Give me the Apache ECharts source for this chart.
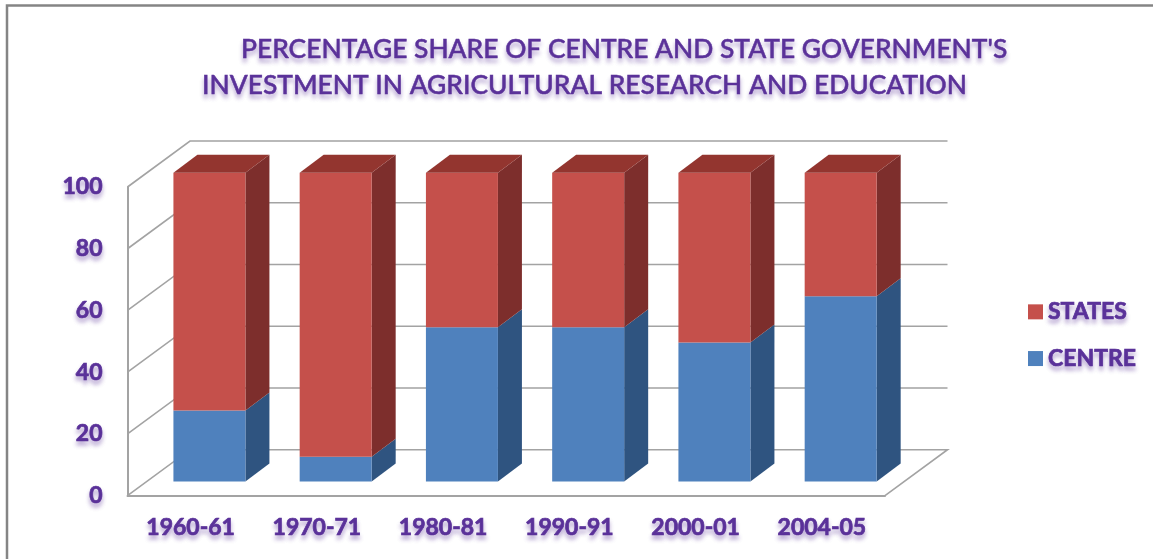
<!DOCTYPE html>
<html>
<head>
<meta charset="utf-8">
<style>html,body{margin:0;padding:0;background:#fff}#c{width:1153px;height:559px}</style>
<script src="https://cdn.jsdelivr.net/npm/echarts@6/dist/echarts.min.js"></script>
</head>
<body>
<div id="c"></div>
<script>
const categories = ['1960-61','1970-71','1980-81','1990-91','2000-01','2004-05'];
const centre = [23, 8, 50, 50, 45, 60];
const states = [77, 92, 50, 50, 55, 40];
const ticks = [0, 20, 40, 60, 80, 100];
const titleLines = ["PERCENTAGE SHARE OF CENTRE AND STATE GOVERNMENT'S", "INVESTMENT IN AGRICULTURAL RESEARCH AND EDUCATION"];

const PURPLE = '#5a3199';
const SHADOW = {textShadowColor:'rgba(90,49,153,0.4)', textShadowBlur:4, textShadowOffsetX:0, textShadowOffsetY:4};
const HEAVY = {textBorderColor:PURPLE, textBorderWidth:0.7};
const MEDIUM = {textBorderColor:PURPLE, textBorderWidth:0.5};
const WALL = {dx:62.5, dy:-46};
const FRONT = {dx:18.8, dy:-14.2};
const DEPTH = {dx:24, dy:-18};
const BAR_W = 72;
const GRID_C = '#a3a3a3';

function wallItem(params, api) {
  const cs = params.coordSys;
  const v = api.value(0);
  const p = api.coord([0, v]);
  const y = p[1], x0 = cs.x, x1 = cs.x + cs.width;
  const style = {stroke:GRID_C, lineWidth:1.6, fill:null};
  const pts = [[x0, y], [x0 + WALL.dx, y + WALL.dy], [x1 + WALL.dx, y + WALL.dy]];
  if (v === 0) pts.push([x1, y]);
  return {type:'polyline', shape:{points:pts}, style};
}
function barRender(front, side, top, withTop) {
  return function (params, api) {
    const c0 = api.coord([api.value(0), api.value(1)]);
    const c1 = api.coord([api.value(0), api.value(2)]);
    const l = c0[0] - BAR_W / 2 + FRONT.dx, r = l + BAR_W;
    const yb = c0[1] + FRONT.dy, yt = c1[1] + FRONT.dy;
    const d = DEPTH;
    const kids = [
      {type:'polygon', shape:{points:[[r,yb],[r+d.dx,yb+d.dy],[r+d.dx,yt+d.dy],[r,yt]]}, style:{fill:side}},
      {type:'rect', shape:{x:l,y:yt,width:BAR_W,height:yb-yt}, style:{fill:front}}
    ];
    if (withTop) kids.push({type:'polygon', shape:{points:[[l,yt],[l+d.dx,yt+d.dy],[r+d.dx,yt+d.dy],[r,yt]]}, style:{fill:top}});
    return {type:'group', children:kids};
  };
}
const chart = echarts.init(document.getElementById('c'), null, {renderer:'canvas'});
chart.setOption({
  animation:false,
  backgroundColor:'#ffffff',
  textStyle:{fontFamily:'Lato'},
  title:[
    {text:titleLines[0], left:236, top:31, textStyle:{color:PURPLE, fontFamily:'Lato', fontWeight:500, fontSize:26.4, ...MEDIUM, ...SHADOW}},
    {text:titleLines[1], left:197, top:67, textStyle:{color:PURPLE, fontFamily:'Lato', fontWeight:500, fontSize:26.4, ...MEDIUM, ...SHADOW}}
  ],
  legend:{
    orient:'vertical', left:1023, top:295, itemWidth:15, itemHeight:15, itemGap:23, icon:'rect',
    data:['STATES','CENTRE'], selectedMode:false,
    textStyle:{color:PURPLE, fontFamily:'Lato', fontWeight:'bold', fontSize:23, padding:[0,0,0,0], ...HEAVY, ...SHADOW}
  },
  grid:{left:127.5, right:268, top:187, bottom:63.3},
  xAxis:{
    type:'category', data:categories,
    axisLine:{show:true, lineStyle:{color:GRID_C, width:2}}, axisTick:{show:false},
    axisLabel:{color:PURPLE, fontFamily:'Lato', fontWeight:'bold', fontSize:23, margin:20, ...HEAVY, ...SHADOW}
  },
  yAxis:{
    type:'value', min:0, max:100, interval:20,
    splitLine:{show:false},
    axisLine:{show:true, lineStyle:{color:GRID_C, width:2}}, axisTick:{show:false},
    axisLabel:{color:PURPLE, fontFamily:'Lato', fontWeight:'bold', fontSize:23, margin:25, ...HEAVY, ...SHADOW}
  },
  series:[
    {type:'custom', name:'walls', z:1, silent:true, data:ticks.map(t=>[t]), encode:{y:0}, renderItem:wallItem},
    {type:'custom', name:'CENTRE', z:2, itemStyle:{color:'#4f81bd'},
      data:categories.map((c,i)=>[i,0,centre[i]]), encode:{x:0,y:[1,2]},
      renderItem:barRender('#4f81bd','#2f5480',null,false)},
    {type:'custom', name:'STATES', z:3, itemStyle:{color:'#c5504b'},
      data:categories.map((c,i)=>[i,centre[i],centre[i]+states[i]]), encode:{x:0,y:[1,2]},
      renderItem:barRender('#c5504b','#7d2e2c','#93352f',true)}
  ],
  graphic:[
    {type:'polyline', silent:true, shape:{points:[[7,559],[7,5.5],[1153,5.5]]}, style:{stroke:'#858585', lineWidth:2.5, fill:null}}
  ]
});
</script>
</body>
</html>
